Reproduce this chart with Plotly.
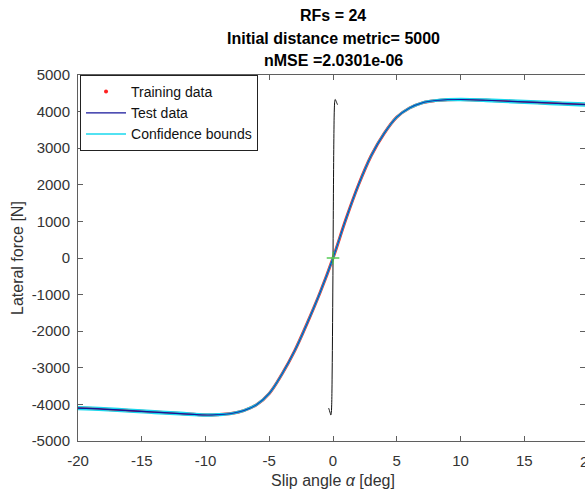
import numpy as np
import plotly.graph_objects as go

# ---- data ----
slip_deg = [-20, -18, -16, -14, -12, -10, -9, -8, -7, -6, -5, -4, -3, -2, -1, 0,
            1, 2, 3, 4, 5, 6, 7, 8, 9, 10, 12, 14, 16, 18, 20]
training_force = [-4100, -4130, -4170, -4210, -4250, -4290, -4280, -4250, -4170, -4010,
                  -3700, -3170, -2530, -1760, -930, 0, 1050, 2000, 2800, 3400, 3850,
                  4100, 4240, 4300, 4325, 4330, 4310, 4280, 4250, 4220, 4190]
test_force = [-4100, -4130, -4170, -4210, -4250, -4290, -4280, -4250, -4170, -4010,
              -3700, -3170, -2530, -1760, -930, 0, 1050, 2000, 2800, 3400, 3850,
              4100, 4240, 4300, 4325, 4330, 4310, 4280, 4250, 4220, 4190]
conf_halfwidth = [40, 40, 40, 38, 35, 30, 25, 20, 18, 18, 18, 18, 18, 18, 18, 18,
                  18, 18, 18, 18, 18, 18, 18, 20, 25, 30, 35, 38, 40, 40, 40]
origin_x = [0]
origin_y = [0]

x_ticks = [-20, -15, -10, -5, 0, 5, 10, 15]
x_tick_labels = ["-20", "-15", "-10", "-5", "0", "5", "10", "15"]
y_ticks = [-5000, -4000, -3000, -2000, -1000, 0, 1000, 2000, 3000, 4000, 5000]
y_tick_labels = ["-5000", "-4000", "-3000", "-2000", "-1000", "0",
                 "1000", "2000", "3000", "4000", "5000"]

title_lines = ["RFs = 24", "Initial distance metric= 5000", "nMSE =2.0301e-06"]

# derived
conf_upper = [f + h for f, h in zip(test_force, conf_halfwidth)]
conf_lower = [f - h for f, h in zip(test_force, conf_halfwidth)]
slip_rad = list(np.deg2rad(slip_deg))

FONT = "Liberation Sans, Arial, Helvetica, sans-serif"
RED = "#ff2020"
NAVY = "#14149a"
CYAN = "#18d8ee"
AXC = "#5f5f5f"
TXT = "#333333"

fig = go.Figure()

# training data (dense dots rendered as a red band) + legend entry
fig.add_trace(go.Scatter(x=slip_deg, y=training_force, mode="lines",
                         line=dict(color=RED, width=3.0, shape="spline"),
                         showlegend=False, hoverinfo="skip"))
fig.add_trace(go.Scatter(x=[None], y=[None], mode="markers", name="Training data",
                         marker=dict(color=RED, size=4)))
fig.add_trace(go.Scatter(x=slip_deg, y=test_force, mode="lines", name="Test data",
                         line=dict(color=NAVY, width=1.2, shape="spline")))
fig.add_trace(go.Scatter(x=slip_deg, y=conf_upper, mode="lines", name="Confidence bounds",
                         line=dict(color=CYAN, width=1.4, shape="spline")))
fig.add_trace(go.Scatter(x=slip_deg, y=conf_lower, mode="lines", showlegend=False,
                         line=dict(color=CYAN, width=1.4, shape="spline")))
# test curve again on top, thin, so the core stays blue
fig.add_trace(go.Scatter(x=slip_deg, y=test_force, mode="lines", showlegend=False,
                         line=dict(color=NAVY, width=1.2, shape="spline"), opacity=0.7))
# same curve against slip in radians (thin black)
fig.add_trace(go.Scatter(x=slip_rad, y=test_force, mode="lines", showlegend=False,
                         line=dict(color="#111111", width=1, shape="spline")))
# origin marker
fig.add_trace(go.Scatter(x=origin_x, y=origin_y, mode="markers", showlegend=False,
                         marker=dict(symbol="cross-thin", size=9,
                                     line=dict(color="#55cc55", width=1.3))))

# y ticks on right (ticks only, no line)
fig.add_trace(go.Scatter(x=[None], y=[None], yaxis="y2", showlegend=False))

anns = []
for txt, py in zip(title_lines, [16, 39, 61]):
    anns.append(dict(text="<b>%s</b>" % txt, x=(333 - 78) / 507, y=(441 - py) / 366,
                     xref="paper", yref="paper", xanchor="center", yanchor="middle",
                     showarrow=False, font=dict(family=FONT, size=16, color="#000000")))
anns.append(dict(text="Slip angle <i>α</i> [deg]", x=(333 - 78) / 507, y=(441 - 481) / 366,
                 xref="paper", yref="paper", xanchor="center", yanchor="middle",
                 showarrow=False, font=dict(family=FONT, size=16, color=TXT)))
anns.append(dict(text="Lateral force [N]", x=(17 - 78) / 507, y=0.5, textangle=-90,
                 xref="paper", yref="paper", xanchor="center", yanchor="middle",
                 showarrow=False, font=dict(family=FONT, size=16, color=TXT)))
anns.append(dict(text="20", x=(588 - 78) / 507, y=(441 - 461) / 366,
                 xref="paper", yref="paper", xanchor="center", yanchor="middle",
                 showarrow=False, font=dict(family=FONT, size=15, color=TXT)))

fig.update_layout(
    width=585, height=492,
    margin=dict(l=78, r=0, t=75, b=51),
    paper_bgcolor="white", plot_bgcolor="white",
    font=dict(family=FONT, size=15, color=TXT),
    showlegend=True,
    legend=dict(x=0.004, y=1, xanchor="left", yanchor="top",
                bgcolor="white", bordercolor="#222222", borderwidth=1,
                font=dict(family=FONT, size=14, color="#111111"),
                itemwidth=40, tracegroupgap=0),
    xaxis=dict(range=[-20, 19.76], tickvals=x_ticks, ticktext=x_tick_labels,
               ticks="inside", ticklen=5,
               tickcolor=AXC, showline=True, linecolor=AXC, linewidth=1,
               mirror="ticks", showgrid=False, zeroline=False,
               ticklabelstandoff=6, tickfont=dict(size=15, color=TXT)),
    yaxis=dict(range=[-5000, 5000], tickvals=y_ticks, ticktext=y_tick_labels,
               ticks="inside", ticklen=5,
               tickcolor=AXC, showline=True, linecolor=AXC, linewidth=1,
               mirror=False, showgrid=False, zeroline=False,
               ticklabelstandoff=4, tickfont=dict(size=15, color=TXT)),
    yaxis2=dict(range=[-5000, 5000], tickvals=y_ticks, overlaying="y", side="right",
                ticks="inside", ticklen=5, tickcolor=AXC, showline=False,
                showticklabels=False, showgrid=False, zeroline=False),
    annotations=anns,
)

fig.write_html("out.html")
